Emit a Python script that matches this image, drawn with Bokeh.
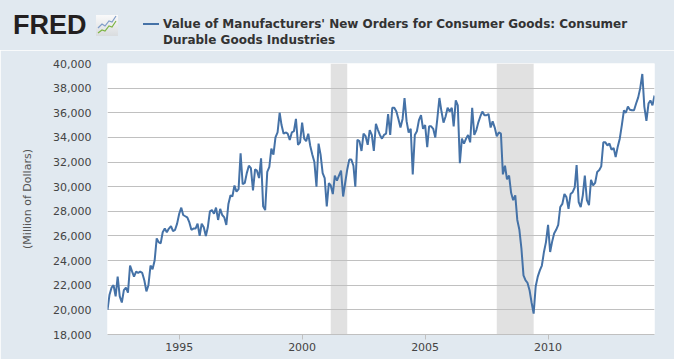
import pandas as pd
from bokeh.plotting import figure
from bokeh.layouts import column
from bokeh.models import (ColumnDataSource, Range1d, FixedTicker, NumeralTickFormatter,
                          DatetimeTickFormatter, BoxAnnotation, Div)
from bokeh.embed import file_html
from bokeh.resources import INLINE

# ---------------- data (monthly, millions of dollars) ----------------
start_month = "1992-02-01"
v1992 = [20000, 21200, 21800, 22000, 21100, 22700, 21100, 20600, 21600, 21800, 21400]
v1993 = [23600, 23100, 22700, 23100, 23000, 23100, 23000, 22400, 21500, 22000, 23600, 23300]
v1994 = [24000, 25800, 25500, 25400, 26300, 26600, 26300, 26600, 26800, 26400, 26500, 27000]
v1995 = [27800, 28300, 27700, 27600, 27500, 27100, 26500, 26600, 26600, 27000, 26000, 27000]
v1996 = [26700, 26000, 26700, 28000, 28100, 27800, 28300, 27300, 28200, 27700, 27500, 26900]
v1997 = [28600, 29300, 29200, 30100, 29600, 29800, 32700, 30200, 30300, 31100, 31700, 31500]
v1998 = [29700, 31400, 31300, 30700, 32300, 28400, 28100, 31200, 31600, 33100, 32600, 34000]
v1999 = [34400, 36000, 35000, 34300, 34400, 34300, 33800, 34400, 34500, 35500, 33400, 33600]
v2000 = [35200, 33900, 33700, 34300, 33300, 32600, 32000, 30000, 33500, 32600, 31100, 30700]
v2001 = [28400, 30300, 30100, 29400, 30900, 30500, 30900, 31300, 29200, 30300, 31400, 32200]
v2002 = [32200, 31700, 30000, 33800, 33700, 32900, 34300, 34100, 33400, 34600, 34200, 32900]
v2003 = [35100, 34600, 34200, 33900, 34200, 34300, 35900, 34200, 36400, 36400, 36100, 35500]
v2004 = [34800, 35500, 37200, 35300, 34400, 34700, 31000, 34200, 34500, 35400, 35800, 34700]
v2005 = [35000, 33200, 34900, 34900, 34700, 34000, 35500, 37200, 36100, 35200, 35700, 36400]
v2006 = [36100, 36400, 34900, 37000, 36600, 31900, 33900, 33500, 33900, 34200, 33600, 36400]
v2007 = [34200, 34600, 35200, 35700, 36100, 35800, 35800, 35900, 34800, 35300, 34800, 34100]
v2008 = [34400, 34300, 31000, 31700, 30600, 30900, 29500, 28900, 29300, 27300, 26500, 25000]
v2009 = [22800, 22400, 22200, 21600, 20600, 19700, 21900, 22700, 23200, 23600, 24700, 25500]
v2010 = [26900, 24700, 25500, 26200, 26500, 26900, 28350, 28600, 29400, 29150, 28200, 29400]
v2011 = [29550, 29950, 31750, 28750, 28350, 29300, 30900, 28900, 28500, 30550, 30100, 30300]
v2012 = [31200, 31350, 31650, 33600, 33600, 33350, 33500, 33000, 33150, 32400, 33250, 33900]
v2013 = [35000, 36200, 36000, 36500, 36250, 36200, 36200, 36750, 37250, 38000, 39150, 36500]
v2014 = [35350, 36750, 37000, 36600, 37400]

recession_starts = ["2001-03-01", "2007-12-01"]
recession_ends = ["2001-11-01", "2009-06-01"]

x_tick_years = [1995, 2000, 2005, 2010]
y_ticks = [18000, 20000, 22000, 24000, 26000, 28000, 30000, 32000, 34000, 36000, 38000, 40000]

series_title_1 = "Value of Manufacturers' New Orders for Consumer Goods: Consumer"
series_title_2 = "Durable Goods Industries"
y_label = "(Million of Dollars)"
logo_text = "FRED"

values = (v1992 + v1993 + v1994 + v1995 + v1996 + v1997 + v1998 + v1999 + v2000 + v2001 +
          v2002 + v2003 + v2004 + v2005 + v2006 + v2007 + v2008 + v2009 + v2010 + v2011 +
          v2012 + v2013 + v2014)
dates = pd.date_range(start_month, periods=len(values), freq="MS")
src = ColumnDataSource(dict(date=dates, value=values))

# ---------------- layout ----------------
BG = "#E1E9F0"
LINE = "#4572A7"
TOTAL_W = 674
HEADER_H = 50
FRAME_L, FRAME_T, FRAME_W, FRAME_H = 107, 63, 547, 271

# ---- header strip (HTML): logo, legend swatch and series title ----
icon_svg = (
    '<svg style="position:absolute;left:96px;top:15px;" width="22" height="21" '
    'xmlns="http://www.w3.org/2000/svg">'
    '<defs><linearGradient id="g" x1="0" y1="0" x2="0" y2="1">'
    '<stop offset="0" stop-color="#FAFAFA"/><stop offset="1" stop-color="#D9DCDF"/>'
    '</linearGradient></defs>'
    '<rect width="22" height="21" fill="url(#g)"/>'
    '<polyline points="2,13 6,9 9,11 13,6 16,7 20,1" fill="none" stroke="#7F9CC8" stroke-width="1.2"/>'
    '<polyline points="2,18 6,15 9,16 13,11 16,12 20,6" fill="none" stroke="#7DB443" stroke-width="1.2"/>'
    '</svg>')
header_html = (
    f'<div style="position:relative;width:{TOTAL_W}px;height:{HEADER_H}px;'
    f'background:{BG};overflow:hidden;margin:0;padding:0;">'
    '<div style="position:absolute;left:13px;top:12px;font-family:\'Liberation Sans\';'
    'font-weight:bold;font-size:27px;line-height:27px;color:#231F20;">'
    f'{logo_text}</div>'
    + icon_svg +
    f'<div style="position:absolute;left:143px;top:23px;width:16px;height:2px;background:{LINE};"></div>'
    '<div style="position:absolute;left:163px;top:16px;font-family:\'DejaVu Sans\';'
    'font-weight:bold;font-size:12px;line-height:16px;color:#333333;white-space:nowrap;">'
    f'{series_title_1}<br>{series_title_2}</div>'
    '</div>')
header = Div(text=header_html, width=TOTAL_W, height=HEADER_H,
             styles={"background-color": BG, "margin": "0", "padding": "0"})

# ---- main chart ----
p = figure(x_axis_type="datetime", output_backend="svg", toolbar_location=None,
           frame_width=FRAME_W, frame_height=FRAME_H,
           min_border_left=FRAME_L, min_border_top=FRAME_T - HEADER_H,
           min_border_right=TOTAL_W - FRAME_L - FRAME_W, min_border_bottom=25,
           x_range=Range1d(dates[0], dates[-1]), y_range=Range1d(y_ticks[0], y_ticks[-1]),
           background_fill_color="white", border_fill_color=BG,
           outline_line_color=None)

for s, e in zip(recession_starts, recession_ends):
    p.add_layout(BoxAnnotation(left=pd.Timestamp(s).value / 1e6, right=pd.Timestamp(e).value / 1e6,
                               fill_color="#E1E1E1", fill_alpha=1.0, line_color=None,
                               level="image"))

p.line("date", "value", source=src, line_color=LINE, line_width=2)

p.xaxis.ticker = FixedTicker(ticks=[pd.Timestamp(f"{y}-01-01").value / 1e6 for y in x_tick_years])
p.xaxis.formatter = DatetimeTickFormatter(years="%Y", months="%Y", days="%Y")
p.xaxis.axis_line_color = "#C0C0C0"
p.xaxis.major_tick_line_color = "#C0C0C0"
p.xaxis.major_tick_in = 0
p.xaxis.major_tick_out = 5
p.xaxis.minor_tick_line_color = None
p.xaxis.major_label_standoff = 3

p.yaxis.ticker = FixedTicker(ticks=y_ticks)
p.yaxis.formatter = NumeralTickFormatter(format="0,0")
p.yaxis.axis_line_color = None
p.yaxis.major_tick_line_color = None
p.yaxis.minor_tick_line_color = None
p.yaxis.major_tick_out = 0
p.yaxis.major_tick_in = 0
p.yaxis.major_label_standoff = 16
p.yaxis.axis_label = y_label
p.yaxis.axis_label_standoff = 16
p.yaxis.axis_label_text_font_style = "normal"
p.yaxis.axis_label_text_font_size = "11px"
p.yaxis.axis_label_text_color = "#555555"
p.yaxis.axis_label_text_font = "DejaVu Sans"

for ax in (p.xaxis, p.yaxis):
    ax.major_label_text_font = "DejaVu Sans"
    ax.major_label_text_font_size = "11px"
    ax.major_label_text_color = "#444444"

p.xgrid.grid_line_color = None
p.ygrid.grid_line_color = "#C0C0C0"
p.ygrid.grid_line_width = 1

layout = column(header, p, spacing=0)
open("out.html", "w").write(file_html(layout, INLINE))
